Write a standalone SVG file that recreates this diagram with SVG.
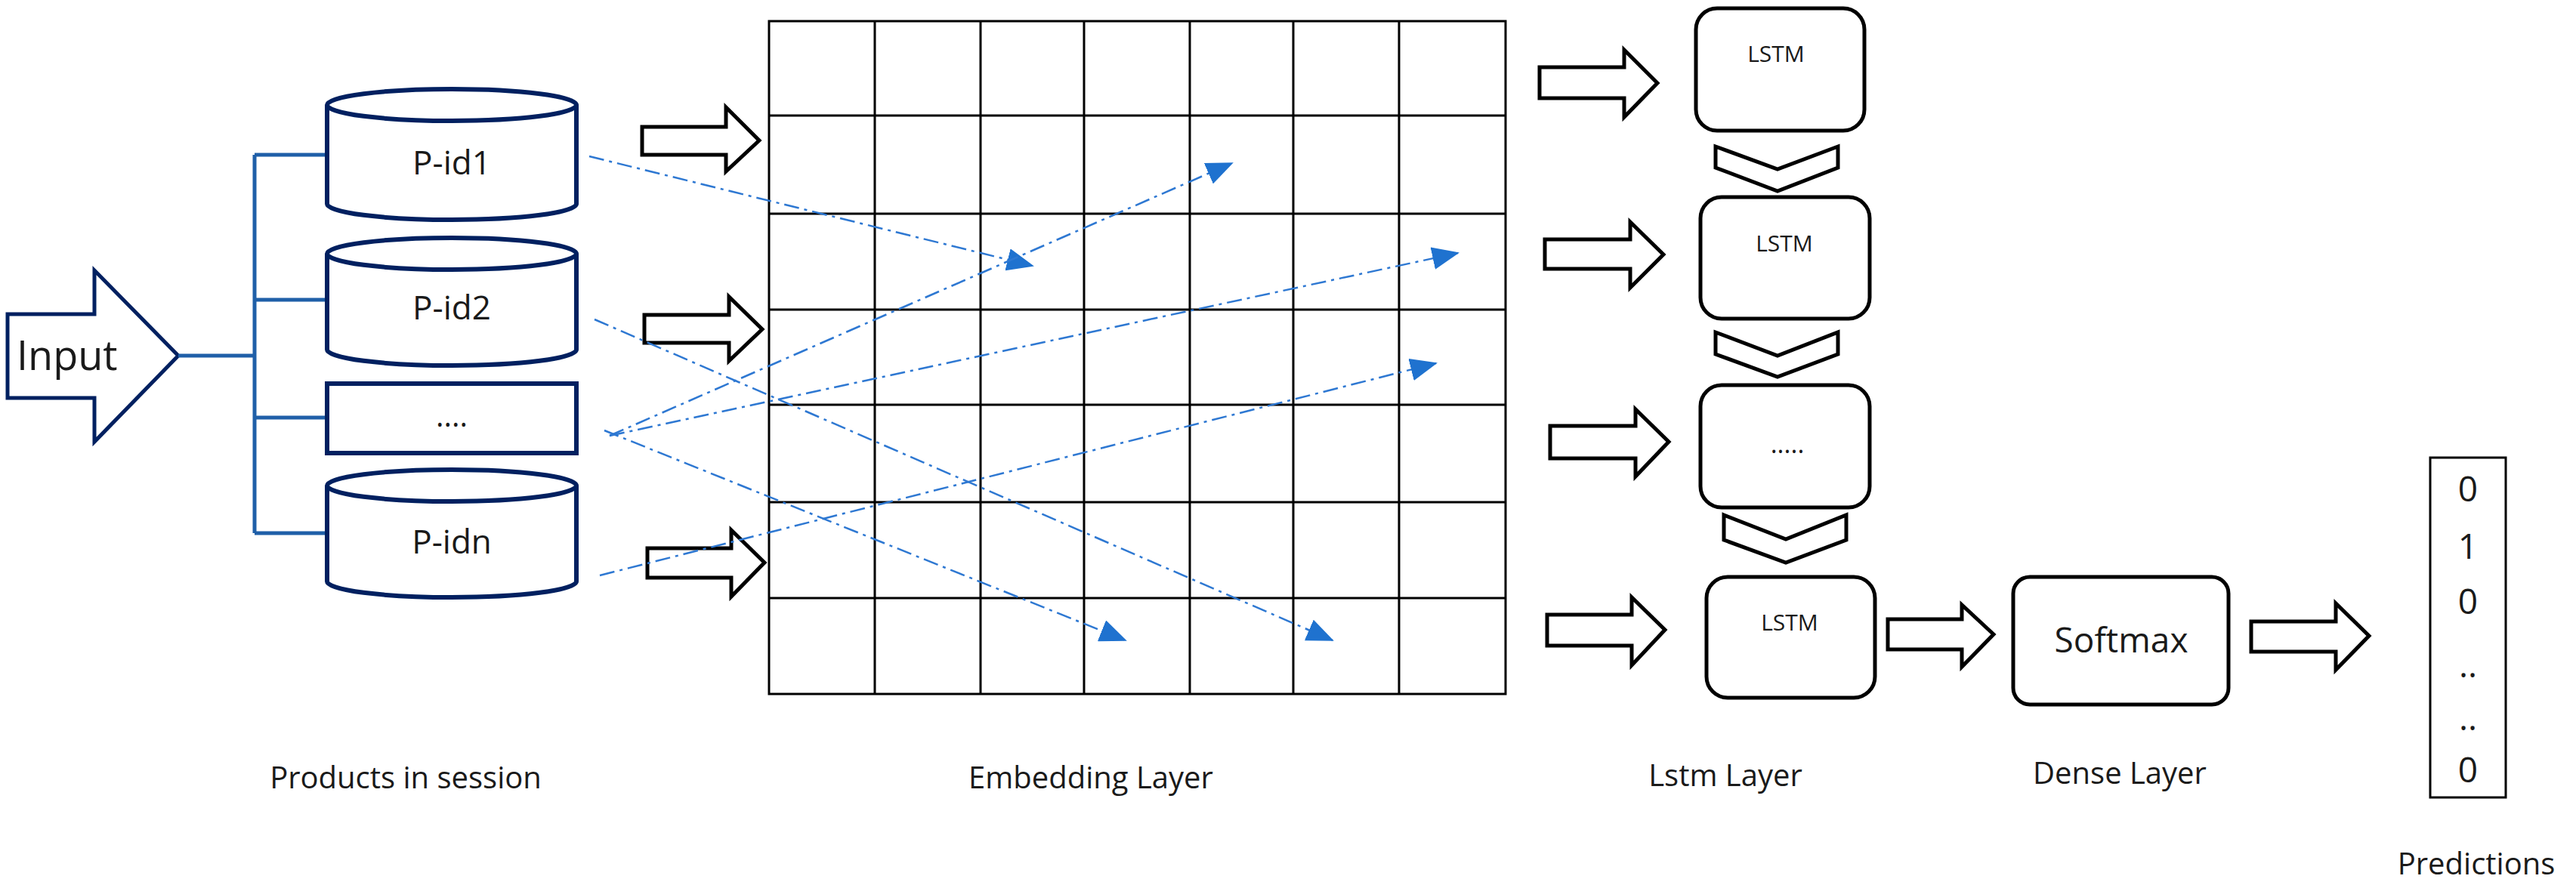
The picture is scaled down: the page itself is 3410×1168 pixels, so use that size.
<svg xmlns="http://www.w3.org/2000/svg" width="3410" height="1168" viewBox="0 0 3410 1168">
<style>
.t{font-family:"Open Sans","Liberation Sans",sans-serif;fill:#1a1a1a}
.cyl{fill:#fff;stroke:#002060;stroke-width:6}
.blk{fill:#fff;stroke:#000;stroke-width:5;stroke-linejoin:miter}
.box{fill:#fff;stroke:#000;stroke-width:5}
.tree{fill:none;stroke:#1f5fa8;stroke-width:5}
.emb{stroke:#2e78d2;stroke-width:2.5;stroke-dasharray:20 7 4 7;fill:none;marker-end:url(#ah)}
.grid{stroke:#000;stroke-width:3;fill:none}
</style>
<defs>
<marker id="ah" markerUnits="userSpaceOnUse" markerWidth="36" markerHeight="30" refX="34" refY="15" orient="auto"><path d="M0,0 L36,15 L0,30 Z" fill="#1f72cf"/></marker>
</defs>
<rect width="3410" height="1168" fill="#fff"/>
<g id="input">
<polygon points="10,416 125,416 125,358 236,471 125,585 125,527 10,527" fill="#fff" stroke="#002060" stroke-width="5"/>
<text class="t" x="22" y="490" font-size="54">Input</text>
</g>
<g id="tree"><path class="tree" d="M236,471 H337 M337,205 V706 M337,205 H433 M337,397 H433 M337,553 H433 M337,706 H433"/></g>
<g id="pid1"><path class="cyl" d="M433,139 a165,21 0 0 1 330,0 V270 a165,21 0 0 1 -330,0 Z M433,139 a165,21 0 0 0 330,0"/><text class="t" x="598" y="231" font-size="44" text-anchor="middle">P-id1</text></g>
<g id="pid2"><path class="cyl" d="M433,336 a165,21 0 0 1 330,0 V463 a165,21 0 0 1 -330,0 Z M433,336 a165,21 0 0 0 330,0"/><text class="t" x="598" y="423" font-size="44" text-anchor="middle">P-id2</text></g>
<g id="dots"><rect class="cyl" x="433" y="508" width="330" height="92"/><text class="t" x="598" y="565" font-size="40" text-anchor="middle">....</text></g>
<g id="pidn"><path class="cyl" d="M433,643 a165,21 0 0 1 330,0 V770 a165,21 0 0 1 -330,0 Z M433,643 a165,21 0 0 0 330,0"/><text class="t" x="598" y="733" font-size="44" text-anchor="middle">P-idn</text></g>
<text class="t" x="537" y="1044" font-size="40" text-anchor="middle">Products in session</text>
<g id="embedding">
<rect class="grid" x="1018" y="28" width="975" height="891"/>
<path class="grid" d="M1158,28V919 M1298,28V919 M1435,28V919 M1575,28V919 M1712,28V919 M1852,28V919 M1018,153H1993 M1018,283H1993 M1018,410H1993 M1018,536H1993 M1018,665H1993 M1018,792H1993"/>
<text class="t" x="1444" y="1044" font-size="40" text-anchor="middle">Embedding Layer</text>
</g>
<g id="connectors">
<polygon class="blk" points="850,168 961,168 961,142 1005,186 961,227 961,205 850,205"/>
<polygon class="blk" points="853,417 965,417 965,393 1009,436 965,478 965,454 853,454"/>
<polygon class="blk" points="857,726 968,726 968,702 1012,745 968,790 968,765 857,765"/>
<line class="emb" x1="780" y1="207" x2="1367" y2="352"/>
<line class="emb" x1="807" y1="577" x2="1631" y2="216"/>
<line class="emb" x1="807" y1="577" x2="1930" y2="335"/>
<line class="emb" x1="794" y1="762" x2="1901" y2="481"/>
<line class="emb" x1="800" y1="570" x2="1490" y2="848"/>
<line class="emb" x1="787" y1="423" x2="1764" y2="848"/>
<polygon class="blk" points="2038,89 2150,89 2150,66 2194,110 2150,155 2150,130 2038,130"/>
<polygon class="blk" points="2045,317 2158,317 2158,294 2202,337 2158,381 2158,356 2045,356"/>
<polygon class="blk" points="2052,564 2165,564 2165,542 2209,585 2165,631 2165,607 2052,607"/>
<polygon class="blk" points="2048,814 2160,814 2160,791 2204,834 2160,881 2160,855 2048,855"/>
<polygon class="blk" points="2271,194 2353,224 2433,194 2433,222 2353,253 2271,222"/>
<polygon class="blk" points="2271,440 2353,471 2433,440 2433,469 2353,499 2271,469"/>
<polygon class="blk" points="2282,682 2364,714 2444,682 2444,715 2364,745 2282,715"/>
<polygon class="blk" points="2499,820 2597,820 2597,801 2639,840 2597,883 2597,860 2499,860"/>
<polygon class="blk" points="2980,823 3092,823 3092,799 3136,842 3092,887 3092,863 2980,863"/>
</g>
<g id="lstm1"><rect class="box" x="2245" y="11" width="223" height="162" rx="28"/><text class="t" x="2351" y="82" font-size="30" text-anchor="middle">LSTM</text></g>
<g id="lstm2"><rect class="box" x="2251" y="261" width="224" height="161" rx="28"/><text class="t" x="2362" y="333" font-size="30" text-anchor="middle">LSTM</text></g>
<g id="lstm3"><rect class="box" x="2251" y="510" width="224" height="162" rx="28"/><text class="t" x="2366" y="600" font-size="34" text-anchor="middle">.....</text></g>
<g id="lstm4"><rect class="box" x="2259" y="764" width="223" height="160" rx="28"/><text class="t" x="2369" y="835" font-size="30" text-anchor="middle">LSTM</text></g>
<text class="t" x="2284" y="1041" font-size="40" text-anchor="middle">Lstm Layer</text>
<g id="softmax"><rect class="box" x="2665" y="764" width="285" height="169" rx="22"/><text class="t" x="2808" y="864" font-size="46" text-anchor="middle">Softmax</text></g>
<text class="t" x="2806" y="1038" font-size="40" text-anchor="middle">Dense Layer</text>
<g id="predictions">
<rect x="3217" y="606" width="100" height="450" fill="#fff" stroke="#000" stroke-width="3"/>
<g class="t" font-size="46" text-anchor="middle">
<text x="3267" y="664">0</text><text x="3267" y="740">1</text><text x="3267" y="813">0</text><text x="3267" y="897">..</text><text x="3267" y="967">..</text><text x="3267" y="1036">0</text>
</g>
<text class="t" x="3278" y="1158" font-size="40" text-anchor="middle">Predictions</text>
</g>
</svg>
